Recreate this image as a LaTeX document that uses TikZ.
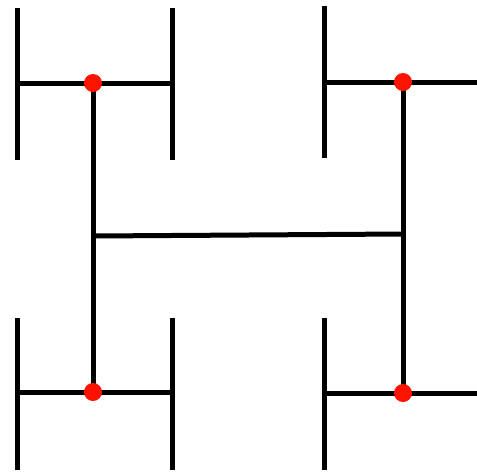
\documentclass[tikz,border=0pt]{standalone}
\usepackage{tikz}

\tikzset{
  bar/.style={line width=5pt, black},
  joint/.style={circle, fill=red!85!orange, inner sep=0pt, minimum size=18pt}
}

\begin{document}
\begin{tikzpicture}[x=1pt, y=-1pt]
\useasboundingbox (0,0) rectangle (477,475);
\clip (0,0) rectangle (477,475);
% centres of the four small H's
\coordinate (tl) at (93,83);
\coordinate (tr) at (403,82);
\coordinate (bl) at (93,392);
\coordinate (br) at (403,393);
\coordinate (ml) at (93,236);
\coordinate (mr) at (403,234);
% big H
\draw[bar] (ml) -- (mr);
\draw[bar] (tl) -- (bl);
\draw[bar] (tr) -- (br);
% small H's
\foreach \c/\l/\r/\y in {tl/76/79/8, tr/79/76/6, bl/76/79/318, br/79/76/318} {
  \draw[bar] ([xshift=-\l pt]\c) -- ([xshift=\r pt]\c);
  \draw[bar] ([xshift=-\l pt]\c |- 0,\y) -- ++(0,152);
  \draw[bar] ([xshift=\r pt]\c |- 0,\y) -- ++(0,152);
}
% joints
\foreach \c in {tl, tr, bl, br}
  \node[joint] (dot\c) at (\c) {};
\end{tikzpicture}
\end{document}
